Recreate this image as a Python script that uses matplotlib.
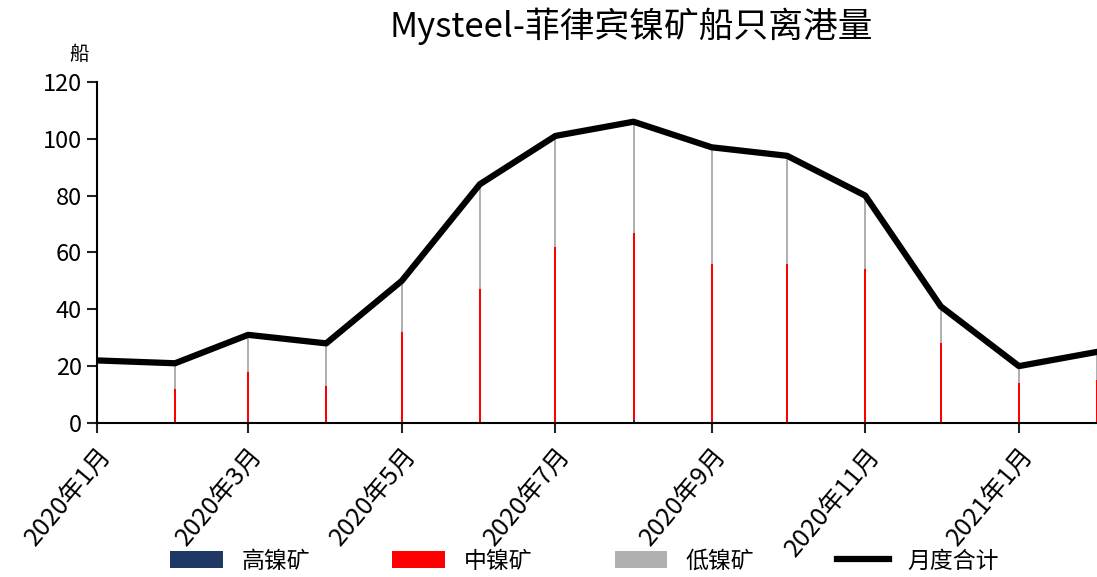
import matplotlib
matplotlib.use("Agg")
import matplotlib.pyplot as plt
import matplotlib.dates as mdates
import numpy as np
import pandas as pd

plt.rcParams["font.family"] = ["Noto Sans CJK SC", "DejaVu Sans"]

# monthly departures (ships)
months = pd.date_range("2020-01-01", "2021-02-01", freq="MS")
total = [22, 21, 31, 28, 50, 84, 101, 106, 97, 94, 80, 41, 20, 25]
high_ni = [1, 0, 0, 0, 0, 0, 0, 1, 0, 0, 0, 0, 0, 0]
mid_ni = [11, 12, 18, 13, 32, 47, 62, 66, 56, 56, 54, 28, 14, 15]
low_ni = [t - h - m for t, h, m in zip(total, high_ni, mid_ni)]

title = "Mysteel-菲律宾镍矿船只离港量"
unit = "船"


def main():
    fig = plt.figure(figsize=(10.97, 5.77), dpi=100)
    ax = fig.add_axes([0.0884, 0.267, 0.9116, 0.591])

    w = 0.8
    b1 = ax.bar(months, high_ni, width=w, color="#203864", label="高镍矿")
    b2 = ax.bar(months, mid_ni, width=w, bottom=high_ni, color="#FF0000", label="中镍矿")
    bottom2 = [h + m for h, m in zip(high_ni, mid_ni)]
    b3 = ax.bar(months, low_ni, width=w, bottom=bottom2, color="#B0B0B0", label="低镍矿")
    ln, = ax.plot(months, total, color="black", linewidth=4.5, label="月度合计", zorder=5)

    ax.set_xlim(pd.Timestamp("2020-01-01"), pd.Timestamp("2021-02-01"))
    ax.set_ylim(0, 120)
    ax.set_yticks(np.arange(0, 121, 20))

    ax.xaxis.set_major_locator(mdates.MonthLocator(bymonth=[1, 3, 5, 7, 9, 11]))
    ax.xaxis.set_major_formatter(
        plt.FuncFormatter(lambda v, p: "%d年%d月" % (mdates.num2date(v).year, mdates.num2date(v).month))
    )
    for lab in ax.get_xticklabels():
        lab.set_rotation(50)
        lab.set_ha("right")
        lab.set_rotation_mode("anchor")
        lab.set_fontsize(18)

    ax.tick_params(axis="y", labelsize=17, pad=4)
    ax.tick_params(axis="both", length=7, width=1.5, color="#222222")
    ax.tick_params(axis="x", pad=7)
    ax.spines["top"].set_visible(False)
    ax.spines["right"].set_visible(False)
    ax.spines["left"].set_linewidth(1.5)
    ax.spines["bottom"].set_linewidth(1.5)

    fig.text(0.575, 0.955, title, ha="center", va="center", fontsize=25)
    fig.text(0.072, 0.905, unit, ha="center", va="center", fontsize=14)

    fig.legend([b1, b2, b3, ln], ["高镍矿", "中镍矿", "低镍矿", "月度合计"],
               loc="lower center", bbox_to_anchor=(0.533, -0.028), ncol=4, frameon=False,
               fontsize=16.5, handlelength=2.3, handleheight=0.8, handletextpad=0.8,
               columnspacing=3.6)

    fig.savefig("out.png", dpi=100)


if __name__ == "__main__":
    main()
